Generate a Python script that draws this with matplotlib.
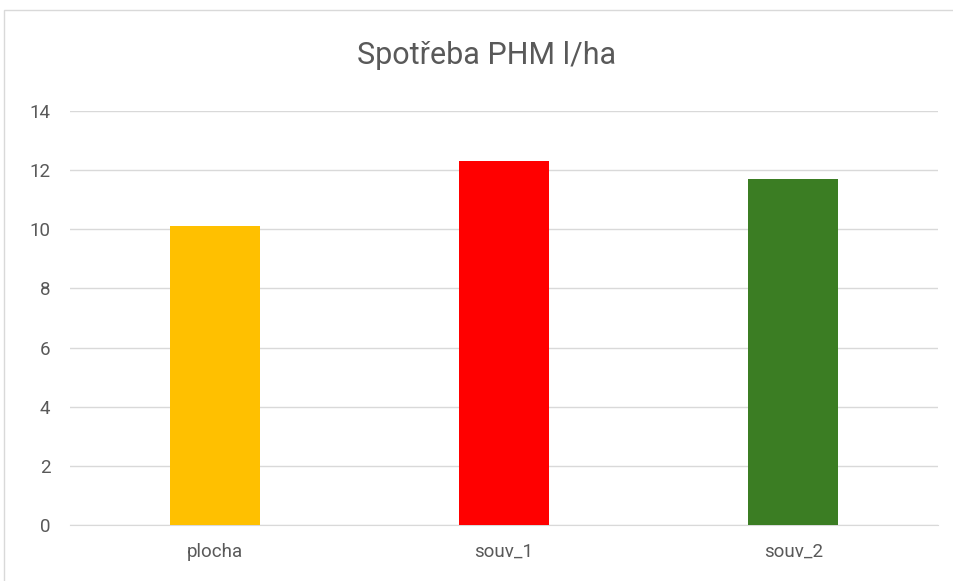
import matplotlib.pyplot as plt
from matplotlib.patches import Rectangle

kategorie = ["plocha", "souv_1", "souv_2"]
spotreba = [10.1, 12.3, 11.7]
barvy = ["#FFC000", "#FF0000", "#3B7D23"]
y_ticks = [0, 2, 4, 6, 8, 10, 12, 14]

plt.rcParams['font.family'] = ['Roboto', 'DejaVu Sans']

fig = plt.figure(figsize=(9.54, 5.81), dpi=100)
ax = fig.add_axes([70 / 954, 1 - 525 / 581, 868 / 954, 414 / 581])

# ramecek grafu (orizly vpravo a dole)
fig.patches.append(Rectangle((4 / 954, -0.05), 1.1, 1 - 10 / 581 + 0.05,
                             transform=fig.transFigure, fill=False,
                             edgecolor="#d9d9d9", linewidth=1))

ax.bar(range(len(kategorie)), spotreba, width=0.31, color=barvy, zorder=3)

ax.set_xlim(-0.5, len(kategorie) - 0.5)
ax.set_ylim(0, 14)
ax.set_yticks(y_ticks)
ax.set_xticks(range(len(kategorie)))
ax.set_xticklabels(kategorie)
ax.grid(axis='y', color="#d9d9d9", linewidth=1, zorder=0)
for s in ["top", "right", "left"]:
    ax.spines[s].set_visible(False)
ax.spines["bottom"].set_color("#d9d9d9")
ax.tick_params(length=0, labelsize=13.5, labelcolor="#595959")
ax.tick_params(axis='y', pad=14)
ax.tick_params(axis='x', pad=13)

fig.text(487 / 954, 1 - 55 / 581, "Spotřeba PHM l/ha", ha="center", va="center",
         fontsize=22, color="#595959")

fig.savefig("out.png", dpi=100)
